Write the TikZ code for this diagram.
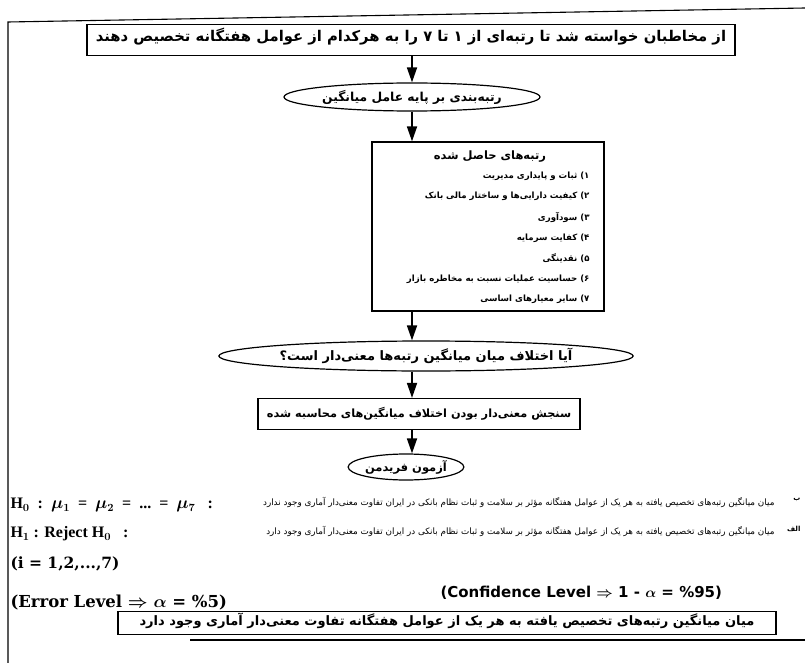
\documentclass[tikz,border=0pt]{standalone}
\usepackage{fontspec}
\usepackage{graphicx}
\setmainfont{Liberation Serif}
\newfontfamily\fa[Script=Arabic]{DejaVu Sans}
\newfontfamily\dserif{DejaVu Serif}
\newfontfamily\dsans{DejaVu Sans}
\TeXXeTstate=1
\usetikzlibrary{arrows.meta,shapes.geometric}
\begin{document}
\begin{tikzpicture}[x=1pt,y=-1pt,
  line width=1pt,
  flow/.style={draw,line width=1.7pt,-{Triangle[width=10pt,length=15pt]}},
  boxnode/.style={draw,line width=1.2pt,inner sep=0pt},
  ellnode/.style={draw,ellipse,line width=1.2pt,inner sep=0pt},
  latin/.style={font=\bfseries\boldmath\fontsize{16}{18}\selectfont,anchor=west,inner sep=0pt},
  small/.style={font=\fa\fontsize{8.8}{10}\selectfont,anchor=east,inner sep=0pt},
  tag/.style={font=\fa\bfseries\fontsize{7}{8}\selectfont,anchor=east,inner sep=0pt}]
\useasboundingbox (0,0) rectangle (805,663);
% outer frame
\draw[line width=1.1pt] (805,8) -- (8,22) -- (8,663);
\draw[line width=1.1pt] (190,640) -- (805,640);
% box 1
\node[boxnode,minimum width=648pt,minimum height=31pt] (b1) at (411,40) {};
\node[font=\fa\bfseries\fontsize{14.8}{16}\selectfont,inner sep=0pt] (t1) at (411,37) {\beginR از مخاطبان خواسته شد تا رتبه‌ای از ۱ تا ۷ را به هرکدام از عوامل هفتگانه تخصیص دهند\endR};
% ellipse 1
\node[ellnode,minimum width=256pt,minimum height=28pt,font=\fa\bfseries\fontsize{12.3}{14}\selectfont] (e1) at (412,97) {\beginR رتبه‌بندی بر پایه عامل میانگین\endR};
% ranking box
\node[boxnode,minimum width=232pt,minimum height=169pt] (rb) at (488,226.5) {};
\node[font=\fa\bfseries\fontsize{11.5}{13}\selectfont,inner sep=0pt] (rt) at (490,157) {\beginR رتبه‌های حاصل شده\endR};
\begin{scope}[every node/.style={font=\fa\bfseries\fontsize{8.6}{10}\selectfont,anchor=east,inner sep=0pt}]
\node (r1) at (590,176) {\beginR ۱) ثبات و پایداری مدیریت\endR};
\node (r2) at (590,196.5) {\beginR ۲) کیفیت دارایی‌ها و ساختار مالی بانک\endR};
\node (r3) at (590,217) {\beginR ۳) سودآوری\endR};
\node (r4) at (590,238) {\beginR ۴) کفایت سرمایه\endR};
\node (r5) at (590,258.5) {\beginR ۵) نقدینگی\endR};
\node (r6) at (590,279) {\beginR ۶) حساسیت عملیات نسبت به مخاطره بازار\endR};
\node (r7) at (590,299) {\beginR ۷) سایر معیارهای اساسی\endR};
\end{scope}
% ellipse 2
\node[ellnode,minimum width=372pt,minimum height=30pt,font=\fa\bfseries\fontsize{13}{15}\selectfont] (e2) at (426,356) {\beginR آیا اختلاف میان میانگین رتبه‌ها معنی‌دار است؟\endR};
% box 3
\node[boxnode,minimum width=322pt,minimum height=31pt,font=\fa\bfseries\fontsize{11.3}{13}\selectfont] (b3) at (419,414) {\beginR سنجش معنی‌دار بودن اختلاف میانگین‌های محاسبه شده\endR};
% ellipse 3
\node[ellnode,minimum width=104pt,minimum height=26pt,font=\fa\bfseries\fontsize{11.5}{13}\selectfont] (e3) at (406,467) {\beginR آزمون فریدمن\endR};
% arrows
\coordinate (ax) at (412,0);
\draw[flow] (b1.south -| ax) -- (e1.north -| ax);
\draw[flow] (e1.south -| ax) -- (rb.north -| ax);
\draw[flow] (rb.south -| ax) -- (e2.north -| ax);
\draw[flow] (e2.south -| ax) -- (b3.north -| ax);
\draw[flow] (b3.south -| ax) -- (e3.north -| ax);
% hypotheses
\node[latin] (h0) at (10,505) {H$_0$\ \ :\ \ $\mu_1$\ \ =\ \ $\mu_2$\ \ =\ \ ...\ \ =\ \ $\mu_7$\ \ \ :};
\node[small] (h0t) at (775,502) {\beginR میان میانگین رتبه‌های تخصیص یافته به هر یک از عوامل هفتگانه مؤثر بر سلامت و ثبات نظام بانکی در ایران تفاوت معنی‌دار آماری وجود ندارد\endR};
\node[tag] (h0l) at (801,500) {\beginR ب\endR};
\node[latin] (h1) at (10,534) {H$_1$ : Reject H$_0$ \ \ :};
\node[small] (h1t) at (775,531) {\beginR میان میانگین رتبه‌های تخصیص یافته به هر یک از عوامل هفتگانه مؤثر بر سلامت و ثبات نظام بانکی در ایران تفاوت معنی‌دار آماری وجود دارد\endR};
\node[tag] (h1l) at (801,529) {\beginR الف\endR};
\node[latin,font=\dserif\bfseries\fontsize{15.5}{18}\selectfont] (iv) at (10,564) {(i = 1,2,...,7)};
\node[latin,font=\dserif\bfseries\boldmath\fontsize{16.5}{19}\selectfont] (err) at (10,603) {(Error Level $\Rightarrow$ $\alpha$ = \%5)};
\node[latin,font=\dsans\bfseries\boldmath\fontsize{15}{18}\selectfont] (conf) at (440,593) {(Confidence Level $\Rightarrow$ 1 - $\alpha$ = \%95)};
% final box
\node[boxnode,minimum width=658pt,minimum height=23pt] (fb) at (447,623) {};
\node[font=\fa\bfseries\fontsize{13}{15}\selectfont,inner sep=0pt] (ft) at (447,621) {\beginR میان میانگین رتبه‌های تخصیص یافته به هر یک از عوامل هفتگانه تفاوت معنی‌دار آماری وجود دارد\endR};
\end{tikzpicture}
\end{document}
